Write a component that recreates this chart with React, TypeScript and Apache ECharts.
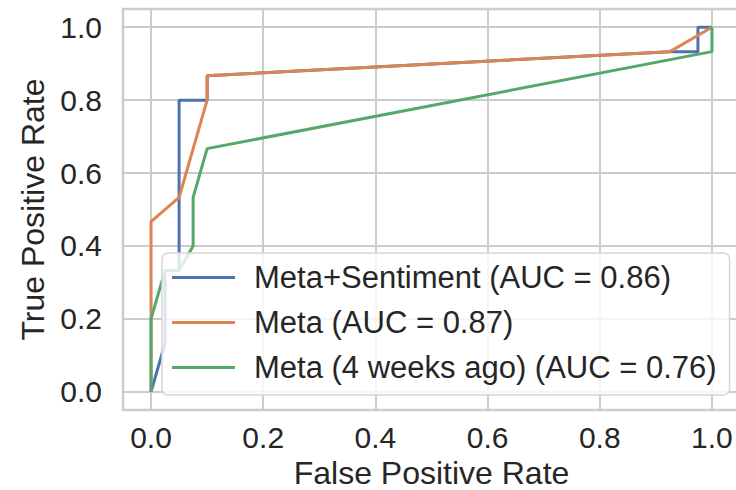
import React, { useEffect, useRef } from "react";
import * as echarts from "echarts";

const seriesNames = [
  "Meta+Sentiment (AUC = 0.86)",
  "Meta (AUC = 0.87)",
  "Meta (4 weeks ago) (AUC = 0.76)",
];
const fprMetaSent = [0, 0.025, 0.025, 0.05, 0.05, 0.1, 0.1, 0.925, 0.975, 0.975, 1.0];
const tprMetaSent = [0, 0.133, 0.333, 0.333, 0.8, 0.8, 0.867, 0.933, 0.933, 1.0, 1.0];
const fprMeta = [0, 0, 0.05, 0.1, 0.1, 0.925, 1.0];
const tprMeta = [0, 0.467, 0.533, 0.8, 0.867, 0.933, 1.0];
const fprMeta4w = [0, 0, 0.025, 0.05, 0.075, 0.075, 0.1, 1.0, 1.0];
const tprMeta4w = [0, 0.2, 0.333, 0.333, 0.4, 0.533, 0.667, 0.933, 1.0];
const colors = ["#4C72B0", "#DD8452", "#55A868"];
const xTitle = "False Positive Rate";
const yTitle = "True Positive Rate";

const FONT = "'Liberation Sans', Arial, Helvetica, sans-serif";
const TEXT = "#262626";
const GRID = "#cccccc";

function pairs(xs: number[], ys: number[]) {
  return xs.map((x, i) => [x, ys[i]]);
}

export default function App() {
  const ref = useRef<HTMLDivElement>(null);
  useEffect(() => {
    if (!ref.current) return;
    const chart = echarts.init(ref.current, null, { renderer: "svg" });
    const data = [pairs(fprMetaSent, tprMetaSent), pairs(fprMeta, tprMeta), pairs(fprMeta4w, tprMeta4w)];
    const axisCommon = {
      type: "value" as const,
      min: -0.05,
      max: 1.05,
      axisLine: { show: false },
      axisTick: { show: false },
      splitLine: { show: true, lineStyle: { color: GRID, width: 2 } },
      axisLabel: {
        showMinLabel: false,
        showMaxLabel: false,
        color: TEXT,
        fontSize: 30,
        fontFamily: FONT,
        formatter: (v: number) => v.toFixed(1),
      },
      nameLocation: "middle" as const,
      nameTextStyle: { color: TEXT, fontSize: 32, fontFamily: FONT, lineHeight: 26 },
    };
    chart.setOption({
      animation: false,
      backgroundColor: "#ffffff",
      grid: {
        left: 123,
        top: 9,
        width: 617,
        height: 401,
        outerBoundsMode: "none",
        containLabel: false,
        show: true,
        borderColor: GRID,
        borderWidth: 2.5,
        backgroundColor: "transparent",
      },
      xAxis: {
        ...axisCommon,
        name: xTitle,
        nameGap: 50,
        axisLabel: { ...axisCommon.axisLabel, margin: 12 },
      },
      yAxis: {
        ...axisCommon,
        name: yTitle,
        nameGap: 69,
        axisLabel: { ...axisCommon.axisLabel, margin: 21 },
      },
      legend: {
        orient: "vertical",
        left: 162,
        top: 253,
        icon: "rect",
        itemWidth: 63,
        itemHeight: 3,
        itemGap: 14,
        padding: [9, 13, 12, 10],
        backgroundColor: "rgba(255,255,255,0.8)",
        borderColor: "#d6d6d6",
        borderWidth: 1.5,
        borderRadius: 6,
        textStyle: {
          color: TEXT,
          fontSize: 31,
          fontFamily: FONT,
          lineHeight: 31,
          padding: [0, 0, 0, 14],
        },
        data: seriesNames,
      },
      series: seriesNames.map((name, i) => ({
        name,
        type: "line",
        data: data[i],
        symbol: "none",
        clip: false,
        color: colors[i],
        lineStyle: { color: colors[i], width: 3 },
      })),
    });
    return () => chart.dispose();
  }, []);
  return (
    <div
      ref={ref}
      style={{ position: "fixed", left: 0, top: 0, width: 736, height: 490 }}
    />
  );
}
